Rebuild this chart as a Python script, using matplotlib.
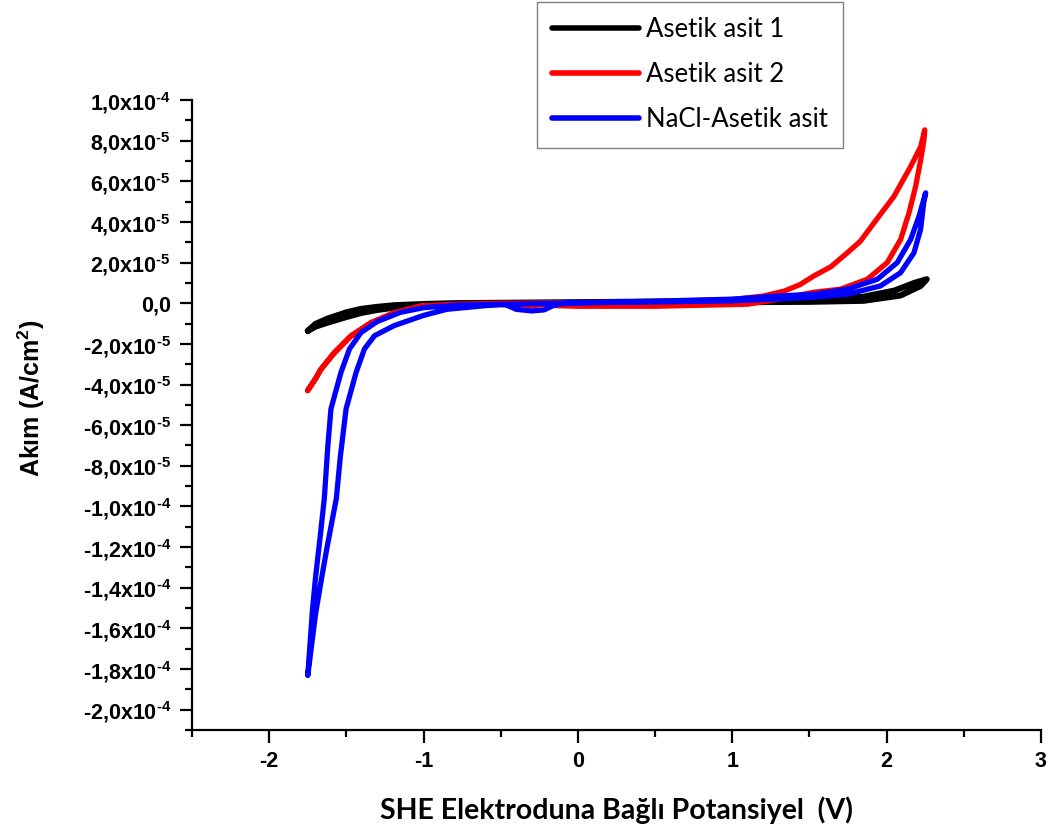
import numpy as np
import matplotlib
matplotlib.use('Agg')
import matplotlib.pyplot as plt
from matplotlib.ticker import MultipleLocator, FuncFormatter

# CV curves, potential in V, current in 1e-5 A/cm2
# Asetik asit 1 (black)
blk_fwd_V = [-1.75, -1.70, -1.62, -1.50, -1.405, -1.30, -1.19, -1.00, -0.80, -0.50, 0.00, 0.50,
             1.00, 1.50, 1.85, 2.09, 2.22, 2.26]
blk_fwd_I = [-1.36, -1.15, -0.95, -0.68, -0.48, -0.33, -0.22, -0.10, -0.05, -0.02, 0.00, 0.03,
             0.05, 0.07, 0.12, 0.38, 0.85, 1.18]
blk_rev_V = [2.26, 2.18, 2.05, 1.85, 1.50, 1.00, 0.50, 0.00, -0.50, -0.80, -1.00, -1.19,
             -1.30, -1.405, -1.50, -1.62, -1.70, -1.75]
blk_rev_I = [1.18, 1.00, 0.62, 0.32, 0.16, 0.11, 0.08, 0.05, 0.02, 0.00, -0.04, -0.10,
             -0.18, -0.28, -0.45, -0.75, -1.02, -1.36]

# Asetik asit 2 (red)
red_fwd_V = [-1.751, -1.70, -1.665, -1.578, -1.47, -1.34, -1.188, -1.015, -0.80, -0.50, 0.00,
             0.50, 1.00, 1.20, 1.338, 1.44, 1.528, 1.64, 1.745, 1.83, 1.918, 2.048, 2.156,
             2.221, 2.247]
red_fwd_I = [-4.30, -3.70, -3.24, -2.42, -1.60, -0.95, -0.46, -0.13, -0.05, 0.00, 0.03,
             0.08, 0.18, 0.35, 0.60, 0.92, 1.34, 1.80, 2.48, 3.05, 3.95, 5.26, 6.73,
             7.71, 8.53]
red_rev_V = [2.247, 2.242, 2.221, 2.188, 2.145, 2.091, 2.004, 1.875, 1.701, 1.53, 1.30, 1.10,
             0.50, 0.00, -0.14, -0.20, -0.30, -0.40, -0.70, -1.015, -1.188, -1.34, -1.47,
             -1.578, -1.665, -1.70, -1.751]
red_rev_I = [8.53, 8.04, 7.06, 5.75, 4.45, 3.14, 2.00, 1.18, 0.69, 0.54, 0.20, -0.05,
             -0.15, -0.15, -0.12, -0.05, -0.12, -0.06, -0.08, -0.15, -0.48, -0.97, -1.62,
             -2.45, -3.26, -3.72, -4.30]

# NaCl-Asetik asit (blue)
blu_fwd_V = [-1.75, -1.72, -1.70, -1.67, -1.643, -1.62, -1.60, -1.535, -1.48, -1.405, -1.30,
             -1.15, -1.00, -0.80, -0.50, -0.46, -0.40, -0.30, -0.22, -0.16, -0.10, 0.00, 0.50,
             1.00, 1.31, 1.53, 1.745, 1.94, 2.069, 2.156, 2.21, 2.253]
blu_fwd_I = [-18.3, -15.1, -13.5, -11.5, -9.6, -7.0, -5.2, -3.4, -2.25, -1.44, -0.90,
             -0.45, -0.22, -0.10, -0.05, -0.10, -0.30, -0.38, -0.33, -0.12, -0.02, 0.02, 0.10,
             0.20, 0.36, 0.44, 0.69, 1.18, 2.00, 3.14, 4.28, 5.43]
blu_rev_V = [2.253, 2.24, 2.22, 2.177, 2.09, 1.96, 1.745, 1.53, 1.20, 1.00, 0.50, 0.00,
             -0.46, -0.60, -0.85, -1.00, -1.19, -1.318, -1.383, -1.437, -1.502, -1.54,
             -1.565, -1.625, -1.66, -1.70, -1.75]
blu_rev_I = [5.43, 4.93, 3.63, 2.48, 1.50, 0.85, 0.44, 0.29, 0.18, 0.12, 0.06, 0.02,
             -0.05, -0.12, -0.30, -0.60, -1.10, -1.60, -2.25, -3.40, -5.20, -7.60,
             -9.60, -12.0, -13.5, -15.3, -18.3]

labels = ['Asetik asit 1', 'Asetik asit 2', 'NaCl-Asetik asit']
colors = ['black', '#ff0000', '#0000ff']
widths = [4.4, 3.8, 3.8]

plt.rcParams['axes.unicode_minus'] = False
plt.rcParams['mathtext.fontset'] = 'custom'
plt.rcParams['mathtext.rm'] = 'Liberation Sans:bold'
plt.rcParams['mathtext.it'] = 'Liberation Sans:bold'
plt.rcParams['mathtext.bf'] = 'Liberation Sans:bold'

fig = plt.figure(figsize=(10.5, 8.36), dpi=100)
ax = fig.add_axes([0.1829, 0.1268, 0.8085, 0.7536])

curves = [(blk_fwd_V + blk_rev_V, blk_fwd_I + blk_rev_I),
          (red_fwd_V + red_rev_V, red_fwd_I + red_rev_I),
          (blu_fwd_V + blu_rev_V, blu_fwd_I + blu_rev_I)]
for (V, I), c, lw, lab in zip(curves, colors, widths, labels):
    ax.plot(V, np.array(I) * 1e-5, color=c, lw=lw, label=lab,
            solid_capstyle='round', solid_joinstyle='round')

ax.set_xlim(-2.5, 3)
ax.set_ylim(-2.1e-4, 1.0e-4)
ax.xaxis.set_major_locator(MultipleLocator(1))
ax.xaxis.set_minor_locator(MultipleLocator(0.5))
ax.yaxis.set_major_locator(MultipleLocator(2e-5))
ax.yaxis.set_minor_locator(MultipleLocator(1e-5))


def sci_comma(v, pos):
    if abs(v) < 1e-12:
        return '0,0'
    e = int(np.floor(np.log10(abs(v)) + 1e-9))
    m = v / 10 ** e
    return ('%.1f' % m).replace('.', ',') + r'x10$^{\text{-}%d}$' % abs(e)


ax.yaxis.set_major_formatter(FuncFormatter(sci_comma))

for s in ['top', 'right']:
    ax.spines[s].set_visible(False)
for s in ['left', 'bottom']:
    ax.spines[s].set_linewidth(1.6)
ax.tick_params(which='major', direction='out', length=9, width=1.6, pad=6)
ax.tick_params(which='minor', direction='out', length=5, width=1.6)
for t in ax.get_xticklabels() + ax.get_yticklabels():
    t.set_fontfamily('Liberation Sans')
    t.set_fontweight('bold')
    t.set_fontsize(15.5)

ax.set_xlabel('SHE Elektroduna Bağlı Potansiyel  (V)', fontfamily='Lato', fontweight='bold',
              fontsize=20.5, labelpad=18)
ax.set_ylabel('Akım (A/cm$^{2}$)', fontfamily='Liberation Sans', fontweight='bold',
              fontsize=18)
ax.yaxis.set_label_coords(-0.171, 0.527)

leg = ax.legend(loc='upper left', bbox_to_anchor=(0.511, 0.998), bbox_transform=fig.transFigure,
                frameon=True, fancybox=False, edgecolor='#808080', framealpha=1,
                handlelength=3.4, handletextpad=0.25, labelspacing=0.78, borderpad=0.6,
                borderaxespad=0, prop={'family': 'Lato', 'size': 18.5})
leg.get_frame().set_linewidth(1.0)
for ln in leg.get_lines():
    ln.set_linewidth(4)

fig.savefig('out.png', dpi=100)
